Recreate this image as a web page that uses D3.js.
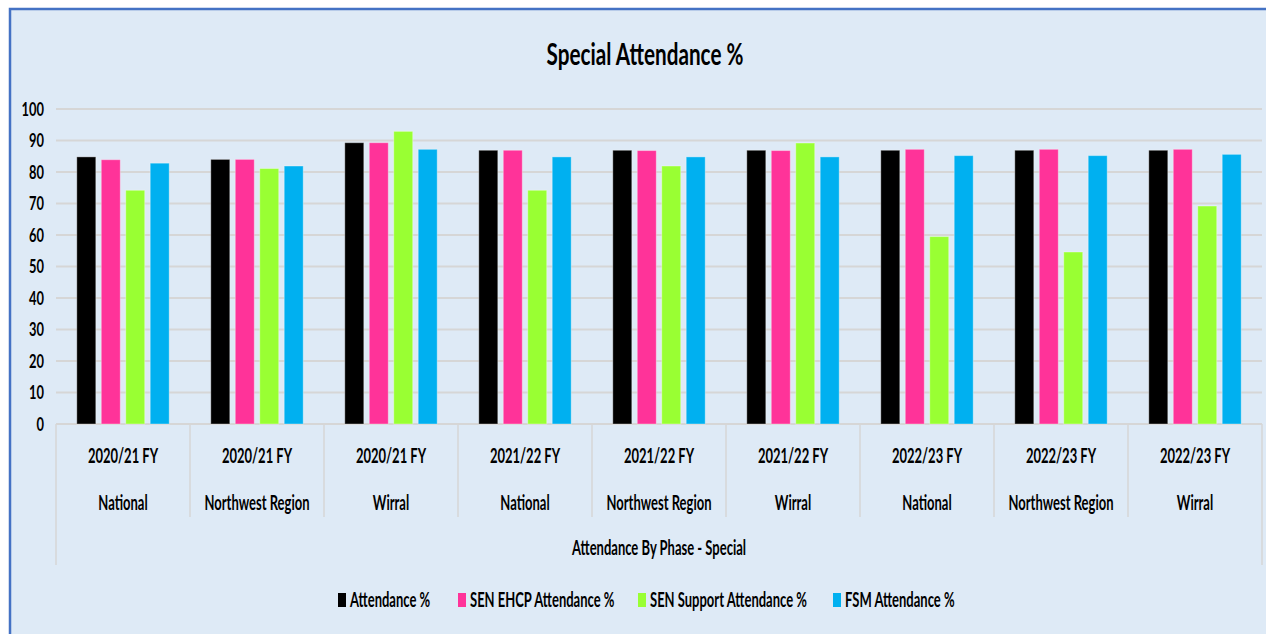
<!DOCTYPE html>
<html lang="en">
<head>
    <meta charset="UTF-8">
    <title>Special Attendance %</title>
    <style>
        body {
            margin: 0;
            padding: 0;
            background: #ffffff;
        }
        #chart svg {
            display: block;
        }
        #chart text {
            font-family: Lato, "Open Sans", "DejaVu Sans", sans-serif;
            font-weight: bold;
            fill: #000;
        }
    </style>
</head>
<body>
    <div id="chart"></div>

    <script src="https://d3js.org/d3.v7.min.js"></script>
    <script>
        // Categories: financial year + area (one group per pair)
        var years = ["2020/21 FY", "2020/21 FY", "2020/21 FY", "2021/22 FY", "2021/22 FY", "2021/22 FY", "2022/23 FY", "2022/23 FY", "2022/23 FY"];
        var areas = ["National", "Northwest Region", "Wirral", "National", "Northwest Region", "Wirral", "National", "Northwest Region", "Wirral"];

        var seriesNames = ["Attendance %", "SEN EHCP Attendance %", "SEN Support Attendance %", "FSM Attendance %"];
        var seriesColors = ["#000000", "#ff3399", "#99ff33", "#00b0f0"];

        var attendance = [84.8, 84.0, 89.3, 86.9, 86.9, 86.9, 86.9, 86.9, 86.9];
        var senEhcp = [83.9, 84.0, 89.3, 86.9, 86.8, 86.8, 87.2, 87.2, 87.2];
        var senSupport = [74.2, 81.1, 92.9, 74.2, 81.9, 89.2, 59.5, 54.6, 69.2];
        var fsm = [82.8, 81.9, 87.2, 84.8, 84.8, 84.8, 85.2, 85.2, 85.6];

        var yTicks = [0, 10, 20, 30, 40, 50, 60, 70, 80, 90, 100];

        var svgWidth = 1266;
        var svgHeight = 634;
        var plot = { left: 56, right: 1262, top: 109, bottom: 424 };
        var squeeze = 0.65; // the source text is tall and narrow (Calibri squashed)

        // squash text horizontally so it reads like the narrow original
        function narrow(sel, k) {
            k = k || squeeze;
            sel.each(function() {
                var t = d3.select(this);
                var x = +t.attr("x") || 0;
                var y = +t.attr("y") || 0;
                t.attr("x", 0).attr("y", 0)
                 .attr("transform", "translate(" + x + "," + y + ") scale(" + k + ",1)");
            });
        }

        var svg = d3.select("#chart")
            .append("svg")
            .attr("width", svgWidth)
            .attr("height", svgHeight);

        // chart area background + blue frame (top/left only, the rest is cropped)
        svg.append("rect")
            .attr("x", 10).attr("y", 9)
            .attr("width", svgWidth - 10).attr("height", svgHeight - 9)
            .attr("fill", "#deeaf6");
        svg.append("path")
            .attr("d", "M10," + svgHeight + "V9H" + svgWidth)
            .attr("fill", "none")
            .attr("stroke", "#4472c4")
            .attr("stroke-width", 2.5);

        // title
        svg.append("text")
            .attr("x", 645)
            .attr("y", 65)
            .attr("text-anchor", "middle")
            .attr("font-size", "30px")
            .text("Special Attendance %")
            .call(narrow, 0.69);

        var values = [attendance, senEhcp, senSupport, fsm];
        var rows = d3.range(years.length).map(function(i) {
            return { i: i, vals: values.map(function(v) { return v[i]; }) };
        });

        var x0 = d3.scaleBand()
            .domain(d3.range(years.length))
            .range([plot.left, plot.right])
            .padding(0);

        var x1 = d3.scaleBand()
            .domain(d3.range(seriesNames.length))
            .range([0, x0.bandwidth()])
            .paddingInner(0.224)
            .paddingOuter(0.85);

        var y = d3.scaleLinear()
            .domain([0, 100])
            .range([plot.bottom, plot.top]);

        // gridlines
        svg.append("g")
            .selectAll("line")
            .data(yTicks)
            .enter().append("line")
            .attr("x1", plot.left)
            .attr("x2", plot.right)
            .attr("y1", function(d) { return y(d); })
            .attr("y2", function(d) { return y(d); })
            .attr("stroke", "#d6d6d6")
            .attr("stroke-width", 2);

        // y axis labels
        var yAxis = svg.append("g")
            .attr("transform", "translate(" + plot.left + ",0)")
            .call(d3.axisLeft(y).tickValues(yTicks).tickSize(0).tickPadding(12));
        yAxis.select(".domain").remove();
        yAxis.attr("font-family", null).attr("font-size", null);
        yAxis.selectAll("text")
            .attr("font-size", "19px")
            .call(narrow, 0.68);

        // bars
        var group = svg.append("g")
            .selectAll("g")
            .data(rows)
            .enter().append("g")
            .attr("transform", function(d) { return "translate(" + x0(d.i) + ",0)"; });

        group.selectAll("rect")
            .data(function(d) { return d.vals.map(function(v, k) { return { k: k, v: v }; }); })
            .enter().append("rect")
            .attr("x", function(d) { return x1(d.k); })
            .attr("width", x1.bandwidth())
            .attr("y", function(d) { return y(d.v); })
            .attr("height", function(d) { return y(0) - y(d.v); })
            .attr("fill", function(d) { return seriesColors[d.k]; })
            .attr("stroke", "#ffffff")
            .attr("stroke-opacity", 0.35)
            .attr("stroke-width", 1);

        // multi-level category axis: separators
        var sep = svg.append("g")
            .attr("stroke", "#d6d6d6")
            .attr("stroke-width", 1.5);
        d3.range(years.length + 1).forEach(function(i) {
            var xx = i < years.length ? x0(i) : plot.right;
            var outer = (i === 0 || i === years.length);
            sep.append("line")
                .attr("x1", xx).attr("x2", xx)
                .attr("y1", plot.bottom)
                .attr("y2", outer ? 565 : 517);
        });

        var catLabels = svg.append("g")
            .attr("text-anchor", "middle")
            .attr("font-size", "20px");

        catLabels.selectAll(".year")
            .data(years)
            .enter().append("text")
            .attr("class", "year")
            .attr("x", function(d, i) { return x0(i) + x0.bandwidth() / 2; })
            .attr("y", 463)
            .text(function(d) { return d; })
            .call(narrow);

        catLabels.selectAll(".area")
            .data(areas)
            .enter().append("text")
            .attr("class", "area")
            .attr("x", function(d, i) { return x0(i) + x0.bandwidth() / 2; })
            .attr("y", 510)
            .text(function(d) { return d; })
            .call(narrow);

        catLabels.append("text")
            .attr("x", (plot.left + plot.right) / 2)
            .attr("y", 555)
            .text("Attendance By Phase - Special")
            .call(narrow);

        // legend
        var legendX = [338, 458, 638, 833];
        var legend = svg.append("g")
            .selectAll("g")
            .data(seriesNames)
            .enter().append("g")
            .attr("transform", function(d, i) { return "translate(" + legendX[i] + ",593)"; });

        legend.append("rect")
            .attr("width", 8)
            .attr("height", 14)
            .attr("fill", function(d, i) { return seriesColors[i]; });

        legend.append("text")
            .attr("x", 12)
            .attr("y", 14)
            .attr("font-size", "20px")
            .text(function(d) { return d; })
            .call(narrow);
    </script>
</body>
</html>
